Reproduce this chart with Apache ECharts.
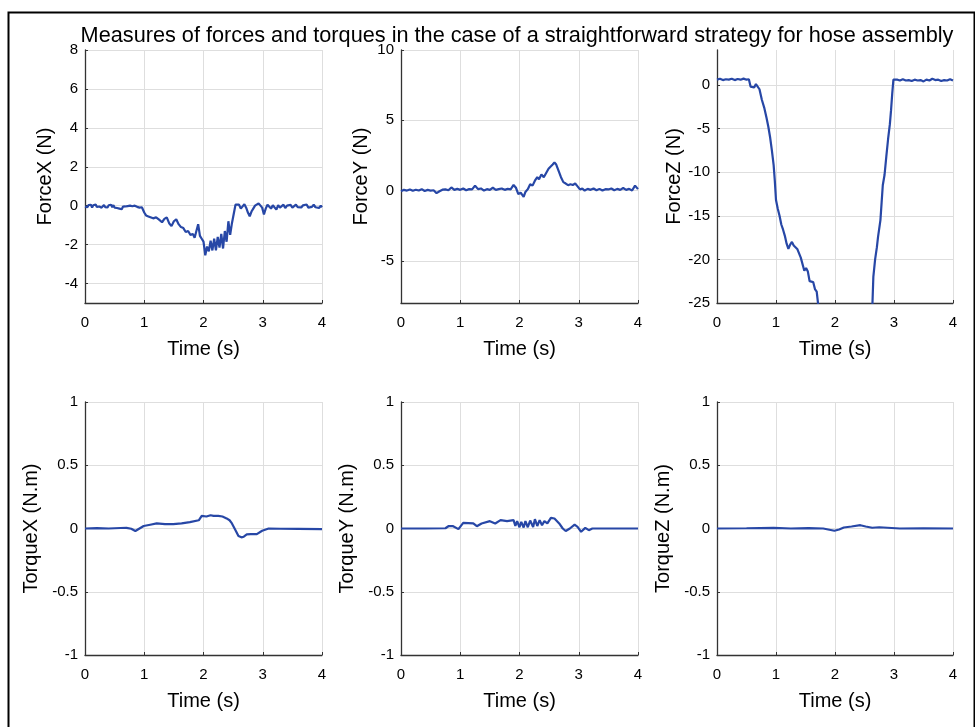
<!DOCTYPE html>
<html>
<head>
<meta charset="utf-8">
<script src="https://cdn.jsdelivr.net/npm/echarts@6/dist/echarts.min.js"></script>
<style>
html,body{margin:0;padding:0;background:#fff;}
#chart{width:975px;height:727px;}
</style>
</head>
<body>
<div id="chart"></div>
<script>
// ---------- DATA ----------
const titleText = 'Measures of forces and torques in the case of a straightforward strategy for hose assembly';
const panelNames = ['ForceX (N)', 'ForceY (N)', 'ForceZ (N)', 'TorqueX (N.m)', 'TorqueY (N.m)', 'TorqueZ (N.m)'];
const xTicks = [0, 1, 2, 3, 4];
const forceXTicks = [-4, -2, 0, 2, 4, 6, 8];
const forceYTicks = [-5, 0, 5, 10];
const forceZTicks = [-25, -20, -15, -10, -5, 0];
const torqueTicks = [-1, -0.5, 0, 0.5, 1];

const forceXTime = [0,0.02,0.04,0.06,0.08,0.10,0.12,0.14,0.16,0.18,0.20,0.22,0.24,0.26,0.28,0.30,0.32,0.34,0.36,0.38,0.40,0.42,0.44,0.46,0.48,0.50,0.52,0.54,0.56,0.58,0.60,0.62,0.64,0.66,0.68,0.70,0.72,0.74,0.76,0.78,0.80,0.82,0.84,0.86,0.88,0.90,0.92,0.94,0.96,
  1.0,1.03,1.07,1.1,1.15,1.2,1.25,1.3,1.34,1.38,1.42,1.46,1.5,1.54,1.58,1.62,1.66,1.7,1.74,1.78,1.82,1.85,1.88,1.91,1.94,1.97,2.0,2.03,2.06,2.09,2.12,2.15,2.18,2.21,2.24,2.27,2.30,2.33,2.36,2.39,2.42,2.45,2.48,2.51,2.54,2.57,2.60,2.63,2.66,2.69,2.72,2.75,2.78,2.81,2.84,2.87,2.90,2.93,2.96,2.99,3.02,3.05,3.08,3.11,3.14,3.17,3.20,3.23,3.26,3.29,
  3.32,3.35,3.38,3.41,3.44,3.47,3.50,3.53,3.56,3.59,3.62,3.65,3.68,3.71,3.74,3.77,3.80,3.83,3.86,3.89,3.92,3.95,3.98,4.0];
const forceX = [-0.05,0.04,-0.08,0.03,-0.06,0.05,-0.09,0.02,-0.05,0.06,-0.07,0.01,-0.04,0.05,-0.1,-0.01,0.04,-0.07,0.03,-0.09,0.02,-0.06,0.05,-0.08,0.03,-0.1,0.0,-0.12,-0.06,-0.15,-0.08,-0.18,-0.05,0.03,-0.04,0.06,-0.02,0.08,0.0,0.06,-0.03,0.07,0.0,0.05,-0.06,0.02,-0.1,0.0,-0.08,
  -0.35,-0.5,-0.55,-0.45,-0.65,-0.6,-0.72,-0.85,-0.68,-0.6,-0.9,-1.05,-0.8,-0.7,-0.95,-1.1,-1.15,-1.35,-1.3,-1.5,-1.45,-1.65,-1.3,-0.95,-1.55,-1.7,-1.85,-2.55,-2.1,-2.35,-1.8,-2.3,-1.7,-2.3,-1.6,-2.15,-1.45,-2.2,-1.3,-1.85,-0.8,-1.5,-0.9,-0.85,0.05,0.15,0.05,-0.15,-0.25,0.08,-0.1,-0.35,-0.55,-0.3,-0.15,0.0,-0.05,0.12,0.05,-0.1,-0.45,-0.15,0.05,-0.02,-0.15,0.02,-0.08,-0.2,0.03,-0.1,
  -0.05,0.05,-0.12,0.0,-0.08,0.04,-0.1,-0.02,0.05,-0.07,0.03,-0.09,0.02,-0.05,0.06,-0.1,0.0,-0.06,0.05,-0.08,0.02,-0.12,0.0,-0.08];

const forceYTime = [0,0.05,0.1,0.15,0.2,0.25,0.3,0.35,0.4,0.45,0.5,0.55,0.6,0.65,0.7,0.75,0.8,0.85,0.9,0.95,1.0,1.05,1.1,1.15,1.2,1.25,1.3,1.35,1.4,1.45,1.5,1.55,1.6,1.65,1.7,1.75,1.8,1.85,1.9,1.94,1.98,2.02,2.07,2.1,2.14,2.18,2.22,2.26,2.3,2.33,2.37,2.41,2.45,2.49,2.52,2.56,2.59,2.62,2.66,2.7,2.74,2.78,2.82,2.86,2.9,2.94,2.98,3.02,3.06,3.1,3.15,3.2,3.25,3.3,3.35,3.4,3.45,3.5,3.55,3.6,3.65,3.7,3.75,3.8,3.85,3.9,3.95,4.0];
const forceY = [-0.05,0.05,0.0,0.08,-0.02,0.06,0.0,0.1,-0.03,0.05,0.0,0.02,-0.18,-0.05,0.06,0.08,0.02,0.22,0.05,0.12,0.05,0.15,0.02,0.1,0.08,0.35,0.1,0.15,0.0,0.1,0.05,0.2,0.05,0.1,0.15,0.05,0.12,0.08,0.4,0.2,-0.25,-0.15,-0.45,-0.1,0.1,0.45,0.35,0.7,0.95,0.8,1.15,0.95,1.25,1.55,1.45,1.85,2.0,1.85,1.4,0.95,0.6,0.5,0.38,0.45,0.4,0.5,0.3,0.08,0.15,0.0,0.12,0.05,0.15,0.02,0.12,0.0,0.1,0.08,0.15,0.02,0.12,0.05,0.18,0.05,0.12,0.0,0.35,0.1];

const forceZTime = [0,0.05,0.1,0.15,0.2,0.25,0.3,0.35,0.4,0.45,0.5,0.54,0.57,0.6,0.63,0.66,0.69,0.72,0.76,0.8,0.84,0.87,0.9,0.93,0.96,0.98,1.0,1.03,1.06,1.09,1.12,1.15,1.18,1.21,1.24,1.27,1.3,1.33,1.36,1.39,1.42,1.45,1.48,1.51,1.54,1.57,1.6,1.63,1.66,1.69,1.72,1.8,2.0,2.3,2.55,2.63,2.65,2.68,2.71,2.73,2.75,2.77,2.79,2.81,2.84,2.87,2.9,2.93,2.95,2.97,2.99,3.02,3.06,3.1,3.15,3.2,3.25,3.3,3.35,3.4,3.45,3.5,3.55,3.6,3.65,3.7,3.75,3.8,3.85,3.9,3.95,4.0];
const forceZ = [0.6,0.7,0.55,0.65,0.6,0.7,0.55,0.68,0.6,0.72,0.6,0.65,-0.2,-0.1,-0.3,0.1,-0.1,-0.5,-1.7,-2.6,-3.8,-4.8,-6.0,-7.5,-9.2,-11.0,-13.2,-14.2,-15.0,-16.0,-16.6,-17.3,-18.2,-18.8,-18.3,-18.0,-18.4,-18.2,-18.8,-18.6,-19.8,-20.0,-21.3,-21.0,-21.4,-22.5,-22.4,-22.6,-23.4,-23.7,-25.5,-30,-34,-34,-30,-26,-22,-20,-18.6,-17.4,-17.6,-15.5,-13.5,-11.5,-10.3,-8.2,-6.2,-4.5,-2.9,-1.0,0.6,0.45,0.6,0.5,0.65,0.5,0.55,0.45,0.6,0.5,0.55,0.4,0.6,0.5,0.7,0.55,0.6,0.45,0.55,0.5,0.65,0.5];

const torqueXTime = [0,0.2,0.4,0.6,0.7,0.78,0.85,0.92,0.99,1.1,1.21,1.35,1.49,1.63,1.77,1.92,1.97,2.05,2.12,2.17,2.25,2.32,2.39,2.44,2.48,2.54,2.59,2.64,2.68,2.73,2.8,2.9,2.99,3.1,3.3,3.6,4.0];
const torqueX = [0.0,0.003,0.0,0.004,0.005,-0.002,-0.02,0.0,0.02,0.03,0.04,0.035,0.035,0.04,0.05,0.065,0.1,0.095,0.105,0.1,0.1,0.095,0.08,0.065,0.04,-0.013,-0.06,-0.07,-0.065,-0.047,-0.045,-0.045,-0.018,0.0,-0.002,-0.003,-0.005];

const torqueYTime = [0,0.4,0.75,0.8,0.88,0.97,1.05,1.22,1.28,1.36,1.5,1.59,1.68,1.79,1.9,1.93,1.96,2.0,2.03,2.07,2.1,2.14,2.18,2.23,2.26,2.3,2.34,2.38,2.42,2.47,2.53,2.59,2.67,2.73,2.78,2.85,2.93,2.98,3.04,3.11,3.17,3.23,3.5,4.0];
const torqueY = [0.0,0.0,0.002,0.018,0.018,-0.005,0.045,0.04,0.018,0.04,0.058,0.04,0.066,0.058,0.066,0.02,0.058,0.01,0.052,0.008,0.058,0.01,0.063,0.012,0.074,0.02,0.066,0.026,0.058,0.04,0.084,0.079,0.04,0.0,-0.02,0.0,0.03,0.013,-0.026,0.005,-0.013,0.0,0.0,0.0];

const torqueZTime = [0,0.5,0.96,1.25,1.55,1.8,1.99,2.07,2.15,2.28,2.43,2.52,2.63,2.75,3.1,3.5,4.0];
const torqueZ = [0.0,0.002,0.005,0.0,0.003,0.0,-0.018,-0.008,0.008,0.016,0.026,0.016,0.006,0.01,0.0,0.002,0.0];

// ---------- CHART ----------
const lineColor = '#2747a6';
const axisColor = '#333333';
const gridColor = '#dedede';
const fontFam = '"Liberation Sans", Arial, sans-serif';

const gridBoxes = [
  {left: 85, top: 50, width: 237, height: 253},
  {left: 401, top: 50, width: 237, height: 253},
  {left: 717, top: 50, width: 236, height: 253},
  {left: 85, top: 402, width: 237, height: 253},
  {left: 401, top: 402, width: 237, height: 253},
  {left: 717, top: 402, width: 236, height: 253}
];
const yRanges = [
  {min: -5, max: 8, ticks: forceXTicks, gap: 30},
  {min: -8, max: 10, ticks: forceYTicks, gap: 30},
  {min: -25, max: 4, ticks: forceZTicks, gap: 30},
  {min: -1, max: 1, ticks: torqueTicks, gap: 44},
  {min: -1, max: 1, ticks: torqueTicks, gap: 44},
  {min: -1, max: 1, ticks: torqueTicks, gap: 44}
];
const seriesData = [
  [forceXTime, forceX],
  [forceYTime, forceY],
  [forceZTime, forceZ],
  [torqueXTime, torqueX],
  [torqueYTime, torqueY],
  [torqueZTime, torqueZ]
];

const grids = [], xAxes = [], yAxes = [], series = [];
for (let i = 0; i < 6; i++) {
  grids.push(Object.assign({containLabel: false}, gridBoxes[i]));
  xAxes.push({
    type: 'value', gridIndex: i, min: 0, max: 4, interval: 1,
    name: 'Time (s)', nameLocation: 'middle', nameGap: 36,
    nameTextStyle: {fontFamily: fontFam, fontSize: 20, color: '#000'},
    axisLine: {show: true, onZero: false, lineStyle: {color: axisColor, width: 1.3}},
    axisTick: {show: true, inside: true, length: 3, lineStyle: {color: axisColor}},
    axisLabel: {fontFamily: fontFam, fontSize: 15, color: '#000', margin: 12},
    splitLine: {show: true, lineStyle: {color: gridColor, width: 1}}
  });
  const yr = yRanges[i];
  yAxes.push({
    type: 'value', gridIndex: i, min: yr.min, max: yr.max,
    name: panelNames[i], nameLocation: 'middle', nameGap: yr.gap,
    nameTextStyle: {fontFamily: fontFam, fontSize: 20, color: '#000'},
    axisLine: {show: true, onZero: false, lineStyle: {color: axisColor, width: 1.3}},
    axisTick: {show: true, inside: true, length: 3, lineStyle: {color: axisColor}, customValues: yr.ticks},
    axisLabel: {fontFamily: fontFam, fontSize: 15, color: '#000', margin: 7, customValues: yr.ticks, showMinLabel: true, showMaxLabel: true},
    splitLine: {show: true, lineStyle: {color: gridColor, width: 1}}
  });
  const ts = seriesData[i][0], vs = seriesData[i][1];
  series.push({
    type: 'line', xAxisIndex: i, yAxisIndex: i,
    data: ts.map((t, k) => [t, vs[k]]),
    showSymbol: false, symbol: 'none', clip: true,
    lineStyle: {color: lineColor, width: 2.2},
    animation: false
  });
}

const chart = echarts.init(document.getElementById('chart'), null, {renderer: 'canvas'});
chart.setOption({
  backgroundColor: '#ffffff',
  animation: false,
  title: {
    text: titleText, left: 512, top: 20, textAlign: 'center',
    textStyle: {fontFamily: fontFam, fontSize: 21.7, fontWeight: 'normal', color: '#000'}
  },
  graphic: [{
    type: 'rect', left: 6, top: 10, silent: true,
    shape: {width: 966, height: 730},
    style: {fill: 'none', stroke: '#000', lineWidth: 2}
  }],
  grid: grids, xAxis: xAxes, yAxis: yAxes, series: series
});
</script>
</body>
</html>
